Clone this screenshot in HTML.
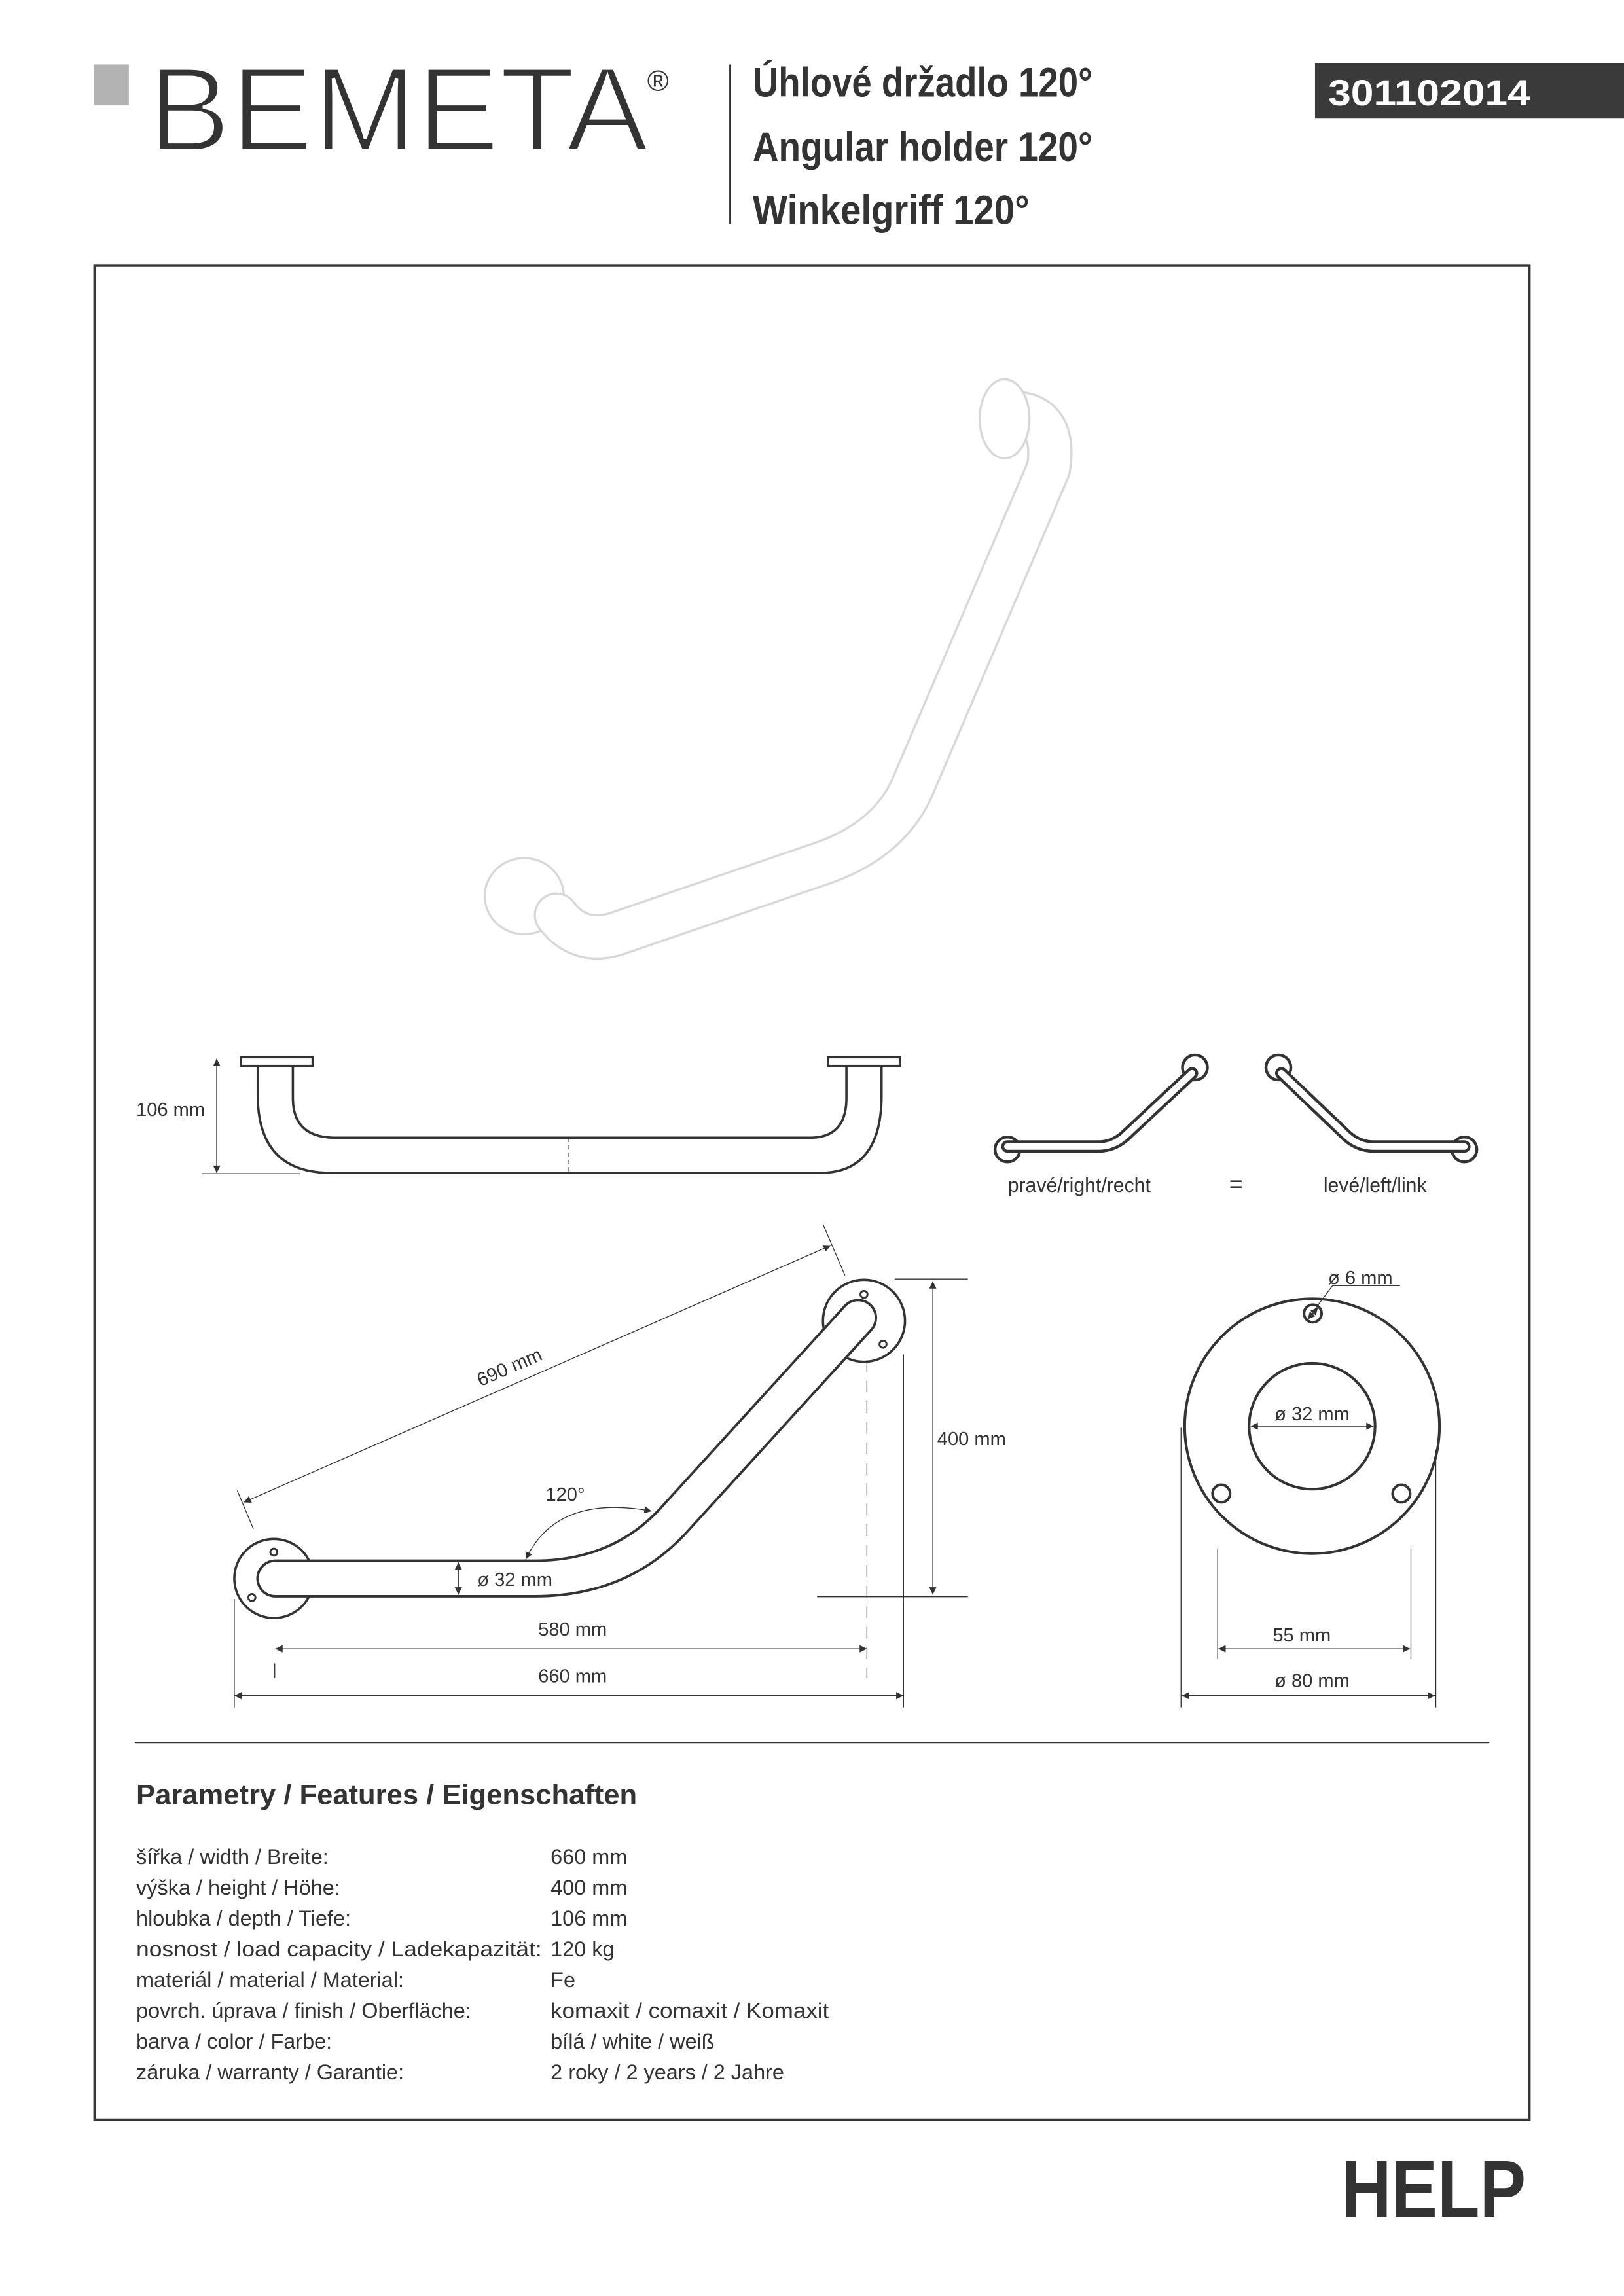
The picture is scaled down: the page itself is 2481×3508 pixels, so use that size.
<!DOCTYPE html>
<html><head><meta charset="utf-8"><style>
html,body{margin:0;padding:0;background:#fff}
svg{display:block}
text{font-family:"Liberation Sans",sans-serif;fill:#333}
</style></head><body>
<svg width="2481" height="3508" viewBox="0 0 1109 1568" preserveAspectRatio="none" xmlns="http://www.w3.org/2000/svg">
<defs>
<marker id="a" viewBox="0 0 10 10" refX="10" refY="5" markerWidth="7" markerHeight="5" orient="auto-start-reverse" markerUnits="userSpaceOnUse"><path d="M0 0L10 5L0 10z" fill="#333"/></marker>
</defs>
<rect width="1109" height="1568" fill="#fff"/>
<!-- header -->
<rect x="64" y="44" width="24" height="28" fill="#b3b3b3"/>
<text x="101" y="103" font-size="82" textLength="342" lengthAdjust="spacingAndGlyphs" stroke="#fff" stroke-width="2.2">BEMETA</text>
<text x="442" y="62" font-size="20">®</text>
<line x1="498.5" y1="44" x2="498.5" y2="153" stroke="#333" stroke-width="1"/>
<text x="514" y="66" font-size="28" font-weight="bold" textLength="232" lengthAdjust="spacingAndGlyphs">Úhlové držadlo 120°</text>
<text x="514" y="110" font-size="28" font-weight="bold" textLength="232" lengthAdjust="spacingAndGlyphs">Angular holder 120°</text>
<text x="514" y="153" font-size="28" font-weight="bold" textLength="189" lengthAdjust="spacingAndGlyphs">Winkelgriff 120°</text>
<rect x="898" y="43" width="211" height="38" fill="#3a3a3a"/>
<text x="907" y="72" font-size="25" font-weight="bold" style="fill:#fff" textLength="138" lengthAdjust="spacingAndGlyphs">301102014</text>
<!-- frame -->
<rect x="64.5" y="181.5" width="980" height="1266" fill="none" stroke="#333" stroke-width="1.5"/>
<!-- photo -->
<g fill="none" stroke-linecap="round" stroke-linejoin="round">
<ellipse cx="358" cy="612" rx="27" ry="26" fill="#fff" stroke="#d8d8d8" stroke-width="1.5"/>
<path d="M690 282 Q722 282 716 320 L622 540 Q605 575 560 590 L420 638 Q395 645 380 625" stroke="#d8d8d8" stroke-width="31"/>
<path d="M690 282 Q722 282 716 320 L622 540 Q605 575 560 590 L420 638 Q395 645 380 625" stroke="#fff" stroke-width="28"/>
<ellipse cx="686" cy="286" rx="17" ry="27" fill="#fff" stroke="#d8d8d8" stroke-width="1.5"/>
</g>
<!-- side view -->
<g fill="none" stroke="#333" stroke-width="1.6">
<rect x="164.5" y="722" width="49" height="6"/>
<rect x="565.5" y="722" width="49" height="6"/>
<path d="M176 728 L176 748 Q176 801 226 801 L560 801 Q602 801 602 748 L602 728"/>
<path d="M200 728 L200 750 Q200 777 229 777 L553 777 Q578 777 578 750 L578 728"/>
</g>
<line x1="388.5" y1="777" x2="388.5" y2="801" stroke="#333" stroke-width="0.6" stroke-dasharray="3,2"/>
<line x1="148" y1="723" x2="148" y2="801" stroke="#333" stroke-width="0.7" marker-start="url(#a)" marker-end="url(#a)"/>
<line x1="138" y1="801.5" x2="205" y2="801.5" stroke="#333" stroke-width="0.6"/>
<text x="93" y="762" font-size="13">106 mm</text>
<!-- mirror icons -->
<g fill="none" stroke-linecap="round" stroke-linejoin="round">
<circle cx="688" cy="785" r="8.5" stroke="#333" stroke-width="2" fill="#fff"/>
<circle cx="816" cy="729" r="8.5" stroke="#333" stroke-width="2" fill="#fff"/>
<path d="M688 783 L750 783 Q760 783 768 776 L814 733" stroke="#333" stroke-width="8.5"/>
<path d="M688 783 L750 783 Q760 783 768 776 L814 733" stroke="#fff" stroke-width="4.5"/>
<circle cx="1000" cy="785" r="8.5" stroke="#333" stroke-width="2" fill="#fff"/>
<circle cx="873" cy="729" r="8.5" stroke="#333" stroke-width="2" fill="#fff"/>
<path d="M1000 783 L938 783 Q928 783 920 776 L875 733" stroke="#333" stroke-width="8.5"/>
<path d="M1000 783 L938 783 Q928 783 920 776 L875 733" stroke="#fff" stroke-width="4.5"/>
</g>
<text x="737" y="814" font-size="13.5" text-anchor="middle">pravé/right/recht</text>
<text x="844" y="814" font-size="16" text-anchor="middle">=</text>
<text x="939" y="814" font-size="13.5" text-anchor="middle">levé/left/link</text>
<!-- angular view -->
<g stroke="#333" stroke-width="1.6">
<circle cx="187" cy="1078" r="27" fill="#fff"/>
<circle cx="590" cy="902" r="28" fill="#fff"/>
<circle cx="187" cy="1060" r="2.4" fill="none" stroke-width="1.3"/>
<circle cx="172" cy="1091" r="2.4" fill="none" stroke-width="1.3"/>
<circle cx="590" cy="884" r="2.4" fill="none" stroke-width="1.3"/>
<circle cx="603" cy="918" r="2.4" fill="none" stroke-width="1.3"/>
</g>
<path d="M188 1078 L365 1078 Q425 1078 462 1036 L586 900" fill="none" stroke="#333" stroke-width="26" stroke-linecap="round" stroke-linejoin="round"/>
<path d="M188 1078 L365 1078 Q425 1078 462 1036 L586 900" fill="none" stroke="#fff" stroke-width="22.6" stroke-linecap="round" stroke-linejoin="round"/>
<g stroke="#333" stroke-width="0.6" fill="none">
<line x1="166.4" y1="1026" x2="567.4" y2="850.5" marker-start="url(#a)" marker-end="url(#a)"/>
<line x1="162" y1="1018" x2="173" y2="1044"/>
<line x1="562" y1="836" x2="577" y2="871"/>
<path d="M359 1065 Q380 1020 445 1032" marker-start="url(#a)" marker-end="url(#a)"/>
<line x1="313" y1="1067" x2="313" y2="1089" marker-start="url(#a)" marker-end="url(#a)"/>
<line x1="637" y1="875" x2="637" y2="1089" marker-start="url(#a)" marker-end="url(#a)"/>
<line x1="611" y1="873.5" x2="661" y2="873.5"/>
<line x1="558" y1="1090.5" x2="661" y2="1090.5"/>
<line x1="592" y1="929" x2="592" y2="1146" stroke-dasharray="8,6"/>
<line x1="187.6" y1="1136" x2="187.6" y2="1146"/>
<line x1="188" y1="1126" x2="592" y2="1126" marker-start="url(#a)" marker-end="url(#a)"/>
<line x1="160" y1="1092" x2="160" y2="1166"/>
<line x1="617" y1="925" x2="617" y2="1166"/>
<line x1="160" y1="1158" x2="617" y2="1158" marker-start="url(#a)" marker-end="url(#a)"/>
</g>
<text x="348" y="938" font-size="13" text-anchor="middle" transform="rotate(-23.6 348 934)">690 mm</text>
<text x="386" y="1025" font-size="13" text-anchor="middle">120°</text>
<text x="326" y="1083" font-size="13">ø 32 mm</text>
<text x="640" y="987" font-size="13">400 mm</text>
<text x="391" y="1117" font-size="13" text-anchor="middle">580 mm</text>
<text x="391" y="1149" font-size="13" text-anchor="middle">660 mm</text>
<!-- rosette detail -->
<g fill="none" stroke="#333" stroke-width="1.8">
<circle cx="896" cy="974" r="87"/>
<circle cx="896" cy="974" r="43"/>
<circle cx="896.5" cy="897" r="6"/>
<circle cx="834" cy="1020" r="6"/>
<circle cx="957" cy="1020" r="6"/>
</g>
<g stroke="#333" stroke-width="0.6" fill="none">
<line x1="893" y1="901" x2="900" y2="893" marker-start="url(#a)" marker-end="url(#a)"/>
<polyline points="898,894 910,878 956,878"/>
<line x1="854" y1="974" x2="938" y2="974" marker-start="url(#a)" marker-end="url(#a)"/>
<line x1="831.5" y1="1058" x2="831.5" y2="1133"/>
<line x1="963.5" y1="1058" x2="963.5" y2="1133"/>
<line x1="832" y1="1126" x2="963" y2="1126" marker-start="url(#a)" marker-end="url(#a)"/>
<line x1="806.5" y1="975" x2="806.5" y2="1166"/>
<line x1="980.5" y1="990" x2="980.5" y2="1166"/>
<line x1="807" y1="1158" x2="980" y2="1158" marker-start="url(#a)" marker-end="url(#a)"/>
</g>
<text x="929" y="877" font-size="13" text-anchor="middle">ø 6 mm</text>
<text x="896" y="970" font-size="13" text-anchor="middle">ø 32 mm</text>
<text x="889" y="1121" font-size="13" text-anchor="middle">55 mm</text>
<text x="896" y="1152" font-size="13" text-anchor="middle">ø 80 mm</text>
<!-- params -->
<line x1="92" y1="1190" x2="1017" y2="1190" stroke="#333" stroke-width="0.8"/>
<text x="93" y="1232" font-size="19" font-weight="bold" textLength="342" lengthAdjust="spacingAndGlyphs">Parametry / Features / Eigenschaften</text>
<g font-size="14.5">
<text x="93" y="1273">šířka / width / Breite:</text><text x="376" y="1273">660 mm</text>
<text x="93" y="1294">výška / height / Höhe:</text><text x="376" y="1294">400 mm</text>
<text x="93" y="1315">hloubka / depth / Tiefe:</text><text x="376" y="1315">106 mm</text>
<text x="93" y="1336" textLength="277" lengthAdjust="spacingAndGlyphs">nosnost / load capacity / Ladekapazität:</text><text x="376" y="1336">120 kg</text>
<text x="93" y="1357">materiál / material / Material:</text><text x="376" y="1357">Fe</text>
<text x="93" y="1378">povrch. úprava / finish / Oberfläche:</text><text x="376" y="1378" textLength="190" lengthAdjust="spacingAndGlyphs">komaxit / comaxit / Komaxit</text>
<text x="93" y="1399">barva / color / Farbe:</text><text x="376" y="1399">bílá / white / weiß</text>
<text x="93" y="1420">záruka / warranty / Garantie:</text><text x="376" y="1420">2 roky / 2 years / 2 Jahre</text>
</g>
<text x="916" y="1514" font-size="55" font-weight="bold" textLength="126" lengthAdjust="spacingAndGlyphs">HELP</text>
</svg>
</body></html>
